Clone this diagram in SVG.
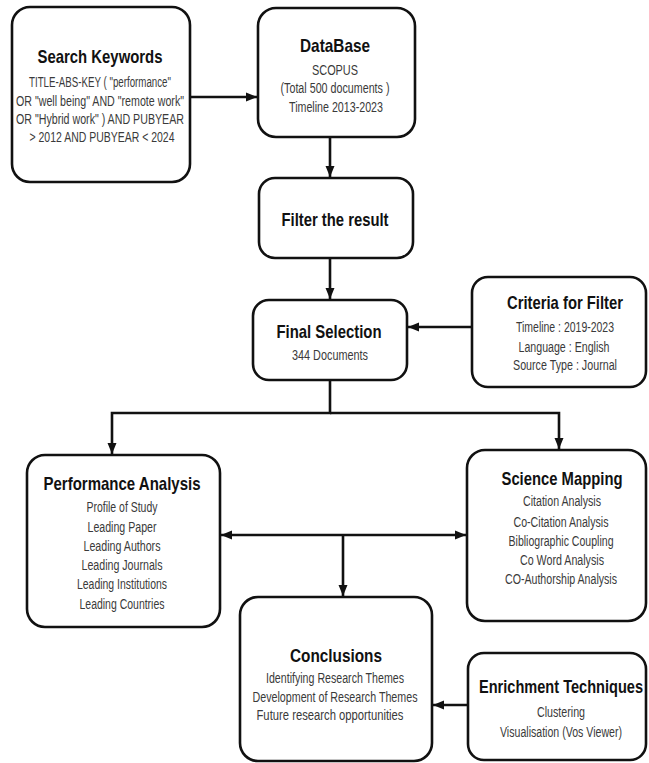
<svg xmlns="http://www.w3.org/2000/svg" width="649" height="763" viewBox="0 0 649 763">
<style>
.box{fill:#fff;stroke:#111;stroke-width:2.6}
.t{font-family:"Liberation Sans",Arial,sans-serif;font-weight:bold;font-size:18.5px;fill:#111;text-anchor:middle}
.b{font-family:"Liberation Sans",Arial,sans-serif;font-size:14px;fill:#3a3a3a;text-anchor:middle}
.c{fill:none;stroke:#111;stroke-width:2.6}
</style>
<defs>
<marker id="ah" markerUnits="userSpaceOnUse" markerWidth="12" markerHeight="12" viewBox="0 0 12 12" refX="11" refY="6" orient="auto-start-reverse">
<path d="M0,1.5 L11,6 L0,10.5 Z" fill="#111"/>
</marker>
</defs>
<rect width="649" height="763" fill="#fff"/>
<g id="connectors">
<path class="c" d="M190,97 H257" marker-end="url(#ah)"/>
<path class="c" d="M330,137 V177" marker-end="url(#ah)"/>
<path class="c" d="M330,258 V299" marker-end="url(#ah)"/>
<path class="c" d="M472,327 H408" marker-end="url(#ah)"/>
<path class="c" d="M330,380 V413 H112 V454" marker-end="url(#ah)"/>
<path class="c" d="M330,413 H559 V449" marker-end="url(#ah)"/>
<path class="c" d="M221,535 H466" marker-start="url(#ah)" marker-end="url(#ah)"/>
<path class="c" d="M343,535 V596" marker-end="url(#ah)"/>
<path class="c" d="M468,705 H433" marker-end="url(#ah)"/>
</g>
<g id="search">
<rect class="box" x="12" y="7" width="178" height="175" rx="18"/>
<text class="t" x="100" y="63" textLength="125" lengthAdjust="spacingAndGlyphs">Search Keywords</text>
<text class="b" x="100" y="87" textLength="142" lengthAdjust="spacingAndGlyphs">TITLE-ABS-KEY ( "performance"</text>
<text class="b" x="100" y="106" textLength="168" lengthAdjust="spacingAndGlyphs">OR "well being" AND "remote work"</text>
<text class="b" x="100" y="124" textLength="168" lengthAdjust="spacingAndGlyphs">OR "Hybrid work" ) AND PUBYEAR</text>
<text class="b" x="102" y="142" textLength="145" lengthAdjust="spacingAndGlyphs">&gt; 2012 AND PUBYEAR &lt; 2024</text>
</g>
<g id="database">
<rect class="box" x="258" y="8" width="157" height="129" rx="18"/>
<text class="t" x="335" y="52" textLength="70" lengthAdjust="spacingAndGlyphs">DataBase</text>
<text class="b" x="335" y="75" textLength="46" lengthAdjust="spacingAndGlyphs">SCOPUS</text>
<text class="b" x="335" y="93" textLength="109" lengthAdjust="spacingAndGlyphs">(Total 500 documents )</text>
<text class="b" x="336" y="112" textLength="94" lengthAdjust="spacingAndGlyphs">Timeline 2013-2023</text>
</g>
<g id="filter">
<rect class="box" x="259" y="178" width="154" height="80" rx="16"/>
<text class="t" x="335" y="226" textLength="107" lengthAdjust="spacingAndGlyphs">Filter the result</text>
</g>
<g id="final">
<rect class="box" x="253" y="300" width="154" height="80" rx="16"/>
<text class="t" x="329" y="338" textLength="105" lengthAdjust="spacingAndGlyphs">Final Selection</text>
<text class="b" x="330" y="360" textLength="76" lengthAdjust="spacingAndGlyphs">344 Documents</text>
</g>
<g id="criteria">
<rect class="box" x="472" y="277" width="174" height="110" rx="16"/>
<text class="t" x="565" y="309" textLength="116" lengthAdjust="spacingAndGlyphs">Criteria for Filter</text>
<text class="b" x="565" y="332" textLength="98" lengthAdjust="spacingAndGlyphs">Timeline : 2019-2023</text>
<text class="b" x="564" y="352" textLength="91" lengthAdjust="spacingAndGlyphs">Language : English</text>
<text class="b" x="565" y="370" textLength="104" lengthAdjust="spacingAndGlyphs">Source Type : Journal</text>
</g>
<g id="performance">
<rect class="box" x="27" y="455" width="193" height="172" rx="18"/>
<text class="t" x="122" y="490" textLength="157" lengthAdjust="spacingAndGlyphs">Performance Analysis</text>
<text class="b" x="122" y="512" textLength="71" lengthAdjust="spacingAndGlyphs">Profile of Study</text>
<text class="b" x="122" y="532" textLength="69" lengthAdjust="spacingAndGlyphs">Leading Paper</text>
<text class="b" x="122" y="551" textLength="77" lengthAdjust="spacingAndGlyphs">Leading Authors</text>
<text class="b" x="122" y="570" textLength="81" lengthAdjust="spacingAndGlyphs">Leading Journals</text>
<text class="b" x="122" y="589" textLength="90" lengthAdjust="spacingAndGlyphs">Leading Institutions</text>
<text class="b" x="122" y="609" textLength="85" lengthAdjust="spacingAndGlyphs">Leading Countries</text>
</g>
<g id="science">
<rect class="box" x="467" y="450" width="179" height="171" rx="18"/>
<text class="t" x="562" y="485" textLength="121" lengthAdjust="spacingAndGlyphs">Science Mapping</text>
<text class="b" x="562" y="506" textLength="78" lengthAdjust="spacingAndGlyphs">Citation Analysis</text>
<text class="b" x="561" y="527" textLength="95" lengthAdjust="spacingAndGlyphs">Co-Citation Analysis</text>
<text class="b" x="561" y="546" textLength="105" lengthAdjust="spacingAndGlyphs">Bibliographic  Coupling</text>
<text class="b" x="562" y="565" textLength="84" lengthAdjust="spacingAndGlyphs">Co Word Analysis</text>
<text class="b" x="561" y="584" textLength="112" lengthAdjust="spacingAndGlyphs">CO-Authorship Analysis</text>
</g>
<g id="conclusions">
<rect class="box" x="240" y="597" width="192" height="164" rx="18"/>
<text class="t" x="336" y="662" textLength="92" lengthAdjust="spacingAndGlyphs">Conclusions</text>
<text class="b" x="335" y="683" textLength="138" lengthAdjust="spacingAndGlyphs">Identifying  Research Themes</text>
<text class="b" x="335" y="702" textLength="165" lengthAdjust="spacingAndGlyphs">Development of Research Themes</text>
<text class="b" x="330" y="720" textLength="147" lengthAdjust="spacingAndGlyphs">Future research opportunities</text>
</g>
<g id="enrichment">
<rect class="box" x="468" y="653" width="178" height="107" rx="16"/>
<text class="t" x="561" y="693" textLength="164" lengthAdjust="spacingAndGlyphs">Enrichment Techniques</text>
<text class="b" x="561" y="717" textLength="48" lengthAdjust="spacingAndGlyphs">Clustering</text>
<text class="b" x="561" y="737" textLength="122" lengthAdjust="spacingAndGlyphs">Visualisation (Vos Viewer)</text>
</g>
</svg>
